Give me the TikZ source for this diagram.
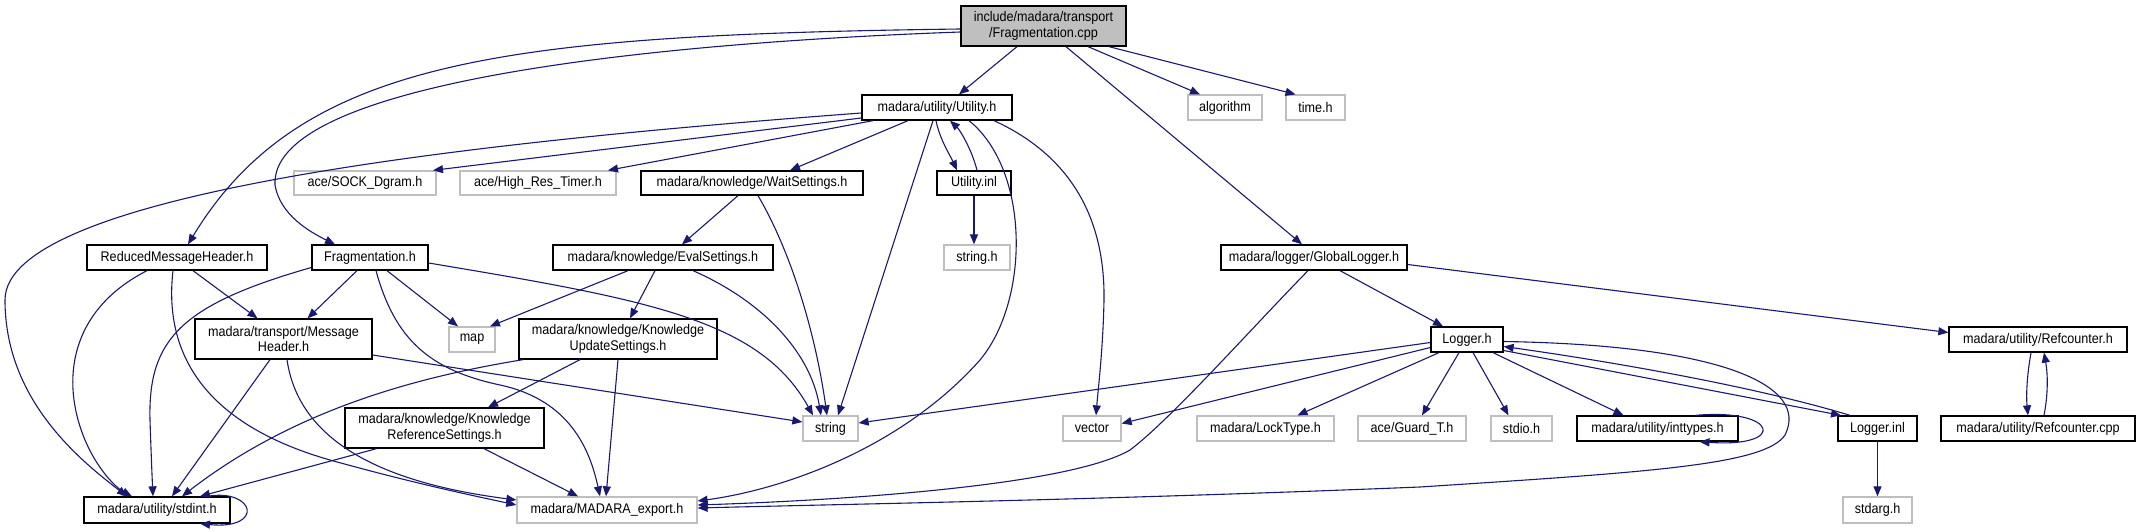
\documentclass[tikz,border=0pt]{standalone}
\usepackage{fontspec}
\setmainfont{Liberation Sans}[FakeStretch=0.9]
\usetikzlibrary{arrows.meta,calc}
\definecolor{edgecol}{HTML}{191970}
\definecolor{extgray}{HTML}{BFBFBF}
\begin{document}
\begin{tikzpicture}[x=1pt,y=-1pt,
  box/.style={draw=black, line width=1.3pt, rectangle, inner sep=0pt, align=center,
    font=\fontsize{14}{15.3}\selectfont, text=black},
  ext/.style={box, draw=extgray},
  rootbox/.style={box, fill=extgray},
  e/.style={draw=edgecol, line width=1.1pt, -{Triangle[length=10pt,width=8pt]}}]
\useasboundingbox (0,0) rectangle (2139,532);
% nodes
\node[rootbox, minimum width=165pt, minimum height=40pt] (root) at (1043.5,26) {include/madara/transport\\/Fragmentation.cpp};
\node[box, minimum width=150pt, minimum height=25pt] (util) at (937,107.5) {madara/utility/Utility.h};
\node[ext, minimum width=74pt, minimum height=25pt] (algo) at (1225,107.5) {algorithm};
\node[ext, minimum width=59pt, minimum height=25pt] (timeh) at (1315.5,107.5) {time.h};
\node[ext, minimum width=142pt, minimum height=24pt] (sock) at (365,183) {ace/SOCK\_Dgram.h};
\node[ext, minimum width=156pt, minimum height=24pt] (hrt) at (538,183) {ace/High\_Res\_Timer.h};
\node[box, minimum width=222pt, minimum height=24pt] (wait) at (752,183) {madara/knowledge/WaitSettings.h};
\node[box, minimum width=74pt, minimum height=24pt] (uinl) at (974,183) {Utility.inl};
\node[box, minimum width=180pt, minimum height=25pt] (rmh) at (177,257.5) {ReducedMessageHeader.h};
\node[box, minimum width=116pt, minimum height=25pt] (fragh) at (370,257.5) {Fragmentation.h};
\node[box, minimum width=220pt, minimum height=25pt] (eval) at (663,257.5) {madara/knowledge/EvalSettings.h};
\node[ext, minimum width=66pt, minimum height=25pt] (stringh) at (977,257.5) {string.h};
\node[box, minimum width=186pt, minimum height=25pt] (glog) at (1314,257.5) {madara/logger/GlobalLogger.h};
\node[box, minimum width=177pt, minimum height=40pt] (msgh) at (283.5,339) {madara/transport/Message\\Header.h};
\node[ext, minimum width=46pt, minimum height=25pt] (map) at (472,339.5) {map};
\node[box, minimum width=198pt, minimum height=40pt] (kus) at (618,339) {madara/knowledge/Knowledge\\UpdateSettings.h};
\node[box, minimum width=72pt, minimum height=25pt] (logh) at (1467,339.5) {Logger.h};
\node[box, minimum width=178pt, minimum height=25pt] (refh) at (2038,339.5) {madara/utility/Refcounter.h};
\node[box, minimum width=199pt, minimum height=40pt] (krs) at (444.5,428) {madara/knowledge/Knowledge\\ReferenceSettings.h};
\node[ext, minimum width=55pt, minimum height=25pt] (string) at (830.5,428.5) {string};
\node[ext, minimum width=58pt, minimum height=25pt] (vector) at (1092,428.5) {vector};
\node[ext, minimum width=137pt, minimum height=25pt] (lock) at (1265.5,428.5) {madara/LockType.h};
\node[ext, minimum width=108pt, minimum height=25pt] (guard) at (1412,428.5) {ace/Guard\_T.h};
\node[ext, minimum width=61pt, minimum height=25pt] (stdio) at (1521.5,428.5) {stdio.h};
\node[box, minimum width=161pt, minimum height=25pt] (intt) at (1657.5,428.5) {madara/utility/inttypes.h};
\node[box, minimum width=79pt, minimum height=25pt] (linl) at (1877.5,428.5) {Logger.inl};
\node[box, minimum width=194pt, minimum height=25pt] (refcpp) at (2038,428.5) {madara/utility/Refcounter.cpp};
\node[box, minimum width=146pt, minimum height=26pt] (stdint) at (157,510) {madara/utility/stdint.h};
\node[ext, minimum width=180pt, minimum height=26pt] (madexp) at (607,510) {madara/MADARA\_export.h};
\node[ext, minimum width=69pt, minimum height=26pt] (stdarg) at (1877.5,510) {stdarg.h};
% edges from root
\draw[e] ([xshift=-26.5pt]root.south) -- ([xshift=22pt]util.north);
\draw[e] ([xshift=44.5pt]root.south) -- ([xshift=-25pt]algo.north);
\draw[e] ([xshift=65.5pt]root.south) -- ([xshift=-20pt]timeh.north);
\draw[e] ([xshift=22.5pt]root.south) -- ([xshift=-12pt]glog.north);
\draw[e] ([yshift=-3pt]root.west) .. controls (500,35) and (300,60) .. ([xshift=11pt]rmh.north);
\draw[e] ([yshift=-6pt]root.west) .. controls (600,45) and (270,90) .. (275,185) .. controls (280,215) and (310,232) .. ([xshift=-35pt]fragh.north);
% edges from Utility.h
\draw[e] ([yshift=-5.5pt]util.west) .. controls (500,140) and (5,190) .. (5,300) .. controls (5,400) and (80,460) .. ([xshift=-30pt]stdint.north);
\draw[e] ([yshift=-10.5pt]util.west) -- ([xshift=68pt]sock.north);
\draw[e] ([xshift=-64pt]util.south) -- ([xshift=70pt]hrt.north);
\draw[e] ([xshift=-29pt]util.south) -- ([xshift=38pt]wait.north);
\draw[e] ([xshift=-1pt]util.south) .. controls (940,140) and (950,155) .. ([xshift=-17pt]uinl.north);
\draw[e] ([xshift=3pt]uinl.north) .. controls (972,150) and (960,130) .. ([xshift=13pt]util.south);
\draw[e] (uinl.south) -- ([xshift=-3pt]stringh.north);
\draw[e] ([xshift=-4pt]util.south) -- ([xshift=7.5pt]string.north);
\draw[e] ([xshift=32pt]util.south) .. controls (1030,170) and (1030,300) .. (980,360) .. controls (900,450) and (780,490) .. ([yshift=9pt]madexp.east);
\draw[e] ([xshift=57pt]util.south) .. controls (1080,160) and (1105,230) .. (1104,300) .. controls (1103,350) and (1098,390) .. ([xshift=4pt]vector.north);
% WaitSettings / EvalSettings
\draw[e] ([xshift=-14pt]wait.south) -- ([xshift=19pt]eval.north);
\draw[e] ([xshift=6pt]wait.south) .. controls (790,250) and (815,330) .. ([xshift=-3.5pt]string.north);
\draw[e] ([xshift=-35pt]eval.south) -- ([xshift=18pt]map.north);
\draw[e] ([xshift=-8pt]eval.south) -- ([xshift=12pt]kus.north);
\draw[e] ([xshift=30pt]eval.south) .. controls (760,300) and (810,350) .. ([xshift=-9.5pt]string.north);
% Fragmentation.h
\draw[e] ([xshift=17pt]fragh.south) -- ([xshift=-14pt]map.north);
\draw[e] ([xshift=-13pt]fragh.south) -- ([xshift=24pt]msgh.north);
\draw[e] ([xshift=6pt]fragh.south) .. controls (395,340) and (430,370) .. (500,385) .. controls (570,400) and (590,450) .. ([xshift=-7pt]madexp.north);
\draw[e] ([yshift=-10pt]fragh.west) .. controls (180,305) and (148,340) .. (150,420) .. controls (151,450) and (152,475) .. ([xshift=-4pt]stdint.north);
\draw[e] ([yshift=-5.5pt]fragh.east) .. controls (650,300) and (760,320) .. ([xshift=-17.5pt]string.north);
% ReducedMessageHeader.h
\draw[e] ([xshift=16pt]rmh.south) -- ([xshift=-26pt]msgh.north);
\draw[e] ([xshift=-30pt]rmh.south) .. controls (70,310) and (60,380) .. (85,440) .. controls (100,475) and (120,490) .. ([xshift=-25pt]stdint.north);
\draw[e] ([xshift=-4pt]rmh.south) .. controls (165,340) and (190,420) .. (330,460) .. controls (420,485) and (480,497) .. ([yshift=5pt]madexp.west);
% MessageHeader.h
\draw[e] ([xshift=-13.5pt]msgh.south) -- ([xshift=15pt]stdint.north);
\draw[e] ([xshift=3.5pt]msgh.south) .. controls (300,450) and (400,485) .. ([yshift=10pt]madexp.west);
\draw[e] ([yshift=-16pt]msgh.east) -- ([yshift=6.5pt]string.west);
% KnowledgeUpdateSettings.h / KnowledgeReferenceSettings.h
\draw[e] ([xshift=-38pt]kus.south) -- ([xshift=43.5pt]krs.north);
\draw[e] ([xshift=-95pt]kus.south) .. controls (430,375) and (300,405) .. ([xshift=25pt]stdint.north);
\draw[e] (kus.south) -- ([xshift=-1pt]madexp.north);
\draw[e] ([xshift=-68pt]krs.south) -- ([xshift=43pt]stdint.north);
\draw[e] ([xshift=39.5pt]krs.south) -- ([xshift=-29pt]madexp.north);
% stdint self loop
\draw[e] ([xshift=50pt]stdint.north) .. controls (255,488) and (265,530) .. ([xshift=43pt]stdint.south);
% GlobalLogger.h
\draw[e] ([xshift=26pt]glog.south) -- ([xshift=-24pt]logh.north);
\draw[e] ([xshift=-6pt]glog.south) .. controls (1250,330) and (1170,420) .. (1130,450) .. controls (1070,485) and (850,500) .. ([yshift=5pt]madexp.east);
\draw[e] ([yshift=-7pt]glog.east) -- ([yshift=7pt]refh.west);
% Logger.h
\draw[e] ([yshift=-3pt]logh.west) -- ([yshift=5.5pt]string.east);
\draw[e] ([yshift=-8pt]logh.west) -- ([yshift=5pt]vector.east);
\draw[e] ([xshift=-28pt]logh.south) -- ([xshift=32pt]lock.north);
\draw[e] ([xshift=-8pt]logh.south) -- ([xshift=10pt]guard.north);
\draw[e] ([xshift=6pt]logh.south) -- ([xshift=-13pt]stdio.north);
\draw[e] ([xshift=26pt]logh.south) -- ([xshift=-34pt]intt.north);
\draw[e] ([yshift=-11pt]logh.east) -- ([xshift=-36.5pt]linl.north);
\draw[e] ([xshift=-27.5pt]linl.north) .. controls (1750,385) and (1600,360) .. ([yshift=-7pt]logh.east);
\draw[e] ([yshift=-2pt]logh.east) .. controls (1720,345) and (1810,385) .. (1785,435) .. controls (1765,465) and (1650,472) .. (1420,487) .. controls (1100,500) and (850,504) .. ([yshift=2pt]madexp.east);
% inttypes self loop
\draw[e] ([xshift=38pt]intt.north) .. controls (1778,408) and (1788,448) .. ([xshift=42pt]intt.south);
% Logger.inl
\draw[e] (linl.south) -- (stdarg.north);
% Refcounter
\draw[e] ([xshift=-7pt]refh.south) .. controls (2027,375) and (2026,395) .. ([xshift=-10pt]refcpp.north);
\draw[e] ([xshift=6pt]refcpp.north) .. controls (2048,395) and (2048,375) .. ([xshift=6pt]refh.south);
\end{tikzpicture}
\end{document}
